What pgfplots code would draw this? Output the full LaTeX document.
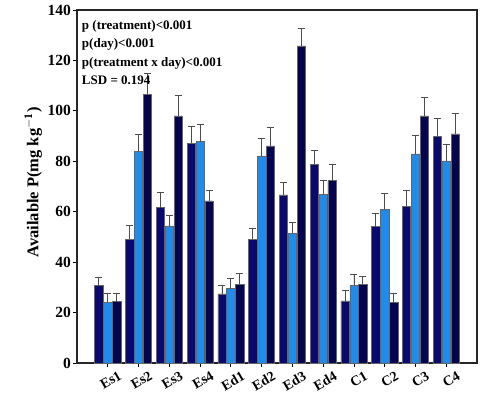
\documentclass[border=0pt]{standalone}
\usepackage{fontspec}
\setmainfont{Liberation Serif}
\usepackage{pgfplots}
\usepackage{pgfplotstable}
\pgfplotsset{compat=1.18}
\definecolor{navyA}{HTML}{0A0A6E}
\definecolor{blueB}{HTML}{1F8CEB}
\definecolor{navyC}{HTML}{04044F}
\pgfplotstableread{
x y e
0 30.7 3.4
1 49.1 5.4
2 61.6 6.0
3 87.2 6.8
4 27.4 3.3
5 49.1 4.1
6 66.7 5.0
7 78.8 5.7
8 24.6 4.2
9 54.1 5.3
10 62.2 6.3
11 89.8 7.3
}\tA
\pgfplotstableread{
x y e
0 24.1 3.5
1 83.9 6.6
2 54.4 4.3
3 87.8 6.9
4 29.5 4.0
5 82.1 7.0
6 51.5 4.2
7 66.9 5.7
8 30.8 4.2
9 61.0 6.3
10 82.9 7.3
11 80.2 6.3
}\tB
\pgfplotstableread{
x y e
0 24.3 3.5
1 106.6 8.4
2 98.0 8.0
3 64.3 4.0
4 31.3 4.3
5 86.1 7.4
6 125.8 6.9
7 72.3 6.5
8 31.2 3.3
9 23.9 3.9
10 98.0 7.4
11 90.9 7.9
}\tC
\begin{document}
\begin{tikzpicture}
\useasboundingbox (0,0) rectangle (481pt,411pt);
\begin{axis}[
  at={(77pt,48pt)}, anchor=south west,
  scale only axis, width=400pt, height=353pt,
  xmin=-1, xmax=12, ymin=0, ymax=140,
  ytick={0,20,...,140},
  xtick={0,...,11},
  xticklabels={Es1,Es2,Es3,Es4,Ed1,Ed2,Ed3,Ed4,C1,C2,C3,C4},
  x tick label style={rotate=30, anchor=north east, font=\bfseries\fontsize{14}{14}\selectfont, inner sep=1pt, xshift=8pt, yshift=-7pt},
  y tick label style={font=\bfseries\fontsize{15.5}{15.5}\selectfont, inner sep=2pt},
  /pgf/number format/assume math mode=true,
  tick align=outside,
  xtick pos=bottom, ytick pos=left,
  major tick length=4pt,
  tick style={black, line width=0.8pt},
  axis line style={line width=1.2pt, black!85},
  ylabel={\bfseries Available P(mg kg$^{\mathbf{-1}}$)},
  ylabel style={font=\fontsize{16.5}{16.5}\selectfont, xshift=4pt},
  ybar, bar width=0.27,
  error bars/y dir=plus, error bars/y explicit,
  error bars/error bar style={black!70, line width=0.8pt},
  error bars/error mark options={black!70, line width=0.8pt, rotate=90, mark size=3.5pt},
  clip=false,
]
\addplot[fill=navyA, draw=black!60, line width=0.5pt, bar shift=-0.29] table[x=x,y=y,y error=e] {\tA};
\addplot[fill=blueB, draw=black!60, line width=0.5pt, bar shift=0] table[x=x,y=y,y error=e] {\tB};
\addplot[fill=navyC, draw=black!60, line width=0.5pt, bar shift=0.29] table[x=x,y=y,y error=e] {\tC};
\node[anchor=north west, align=left, font=\bfseries\fontsize{13}{18.5}\selectfont, inner sep=0pt] at (axis description cs:0.012,0.972)
  {p (treatment)<0.001\\p(day)<0.001\\p(treatment x day)<0.001\\LSD = 0.194};
\end{axis}
\end{tikzpicture}
\end{document}
